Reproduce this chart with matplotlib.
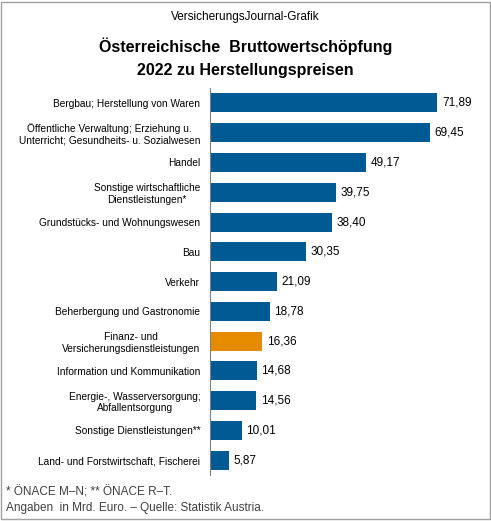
import matplotlib
matplotlib.use("Agg")
from matplotlib import pyplot as plt
from matplotlib.patches import Rectangle

plt.rcParams['font.family'] = ['Liberation Sans', 'DejaVu Sans']

branchen = ['Bergbau; Herstellung von Waren',
            'Öffentliche Verwaltung; Erziehung u.\nUnterricht; Gesundheits- u. Sozialwesen',
            'Handel',
            'Sonstige wirtschaftliche\nDienstleistungen*',
            'Grundstücks- und Wohnungswesen',
            'Bau',
            'Verkehr',
            'Beherbergung und Gastronomie',
            'Finanz- und\nVersicherungsdienstleistungen',
            'Information und Kommunikation',
            'Energie-, Wasserversorgung;\nAbfallentsorgung',
            'Sonstige Dienstleistungen**',
            'Land- und Forstwirtschaft, Fischerei']
werte = [71.89, 69.45, 49.17, 39.75, 38.40, 30.35, 21.09, 18.78, 16.36, 14.68, 14.56, 10.01, 5.87]
highlight = 'Finanz- und\nVersicherungsdienstleistungen'

blau = '#005a94'
orange = '#e68a00'

fig = plt.figure(figsize=(4.91, 5.21), dpi=100)
fig.patches.append(Rectangle((0.003, 0.003), 0.994, 0.994, transform=fig.transFigure,
                             fill=False, edgecolor='#a0a0a0', linewidth=1))

ax = fig.add_axes([0.428, 0.088, 0.515, 0.743])
farben = [orange if b == highlight else blau for b in branchen]
pos = list(range(len(branchen)))
ax.barh(pos, werte, height=0.64, color=farben)
ax.set_ylim(len(branchen) - 0.5, -0.5)
ax.set_xlim(0, 80)
ax.set_yticks(pos)
ax.set_yticklabels(branchen, fontsize=7.3, multialignment='center')
ax.tick_params(axis='y', length=0, pad=7)
ax.set_xticks([])
for s in ['top', 'right', 'bottom']:
    ax.spines[s].set_visible(False)
ax.spines['left'].set_color('#808080')

for p, w in zip(pos, werte):
    ax.text(w + 1.5, p, f'{w:.2f}'.replace('.', ','), va='center', ha='left', fontsize=8.5)

fig.text(0.5, 0.968, 'VersicherungsJournal-Grafik', ha='center', va='center', fontsize=8.5)
fig.text(0.5, 0.889, 'Österreichische  Bruttowertschöpfung\n2022 zu Herstellungspreisen',
         ha='center', va='center', fontsize=11.5, fontweight='bold', linespacing=1.65)
fig.text(0.012, 0.056, '* ÖNACE M–N; ** ÖNACE R–T.', ha='left', va='center', fontsize=8.5, color='#404040')
fig.text(0.012, 0.025, 'Angaben  in Mrd. Euro. – Quelle: Statistik Austria.', ha='left', va='center',
         fontsize=8.5, color='#404040')

fig.savefig('out.png', dpi=100)
